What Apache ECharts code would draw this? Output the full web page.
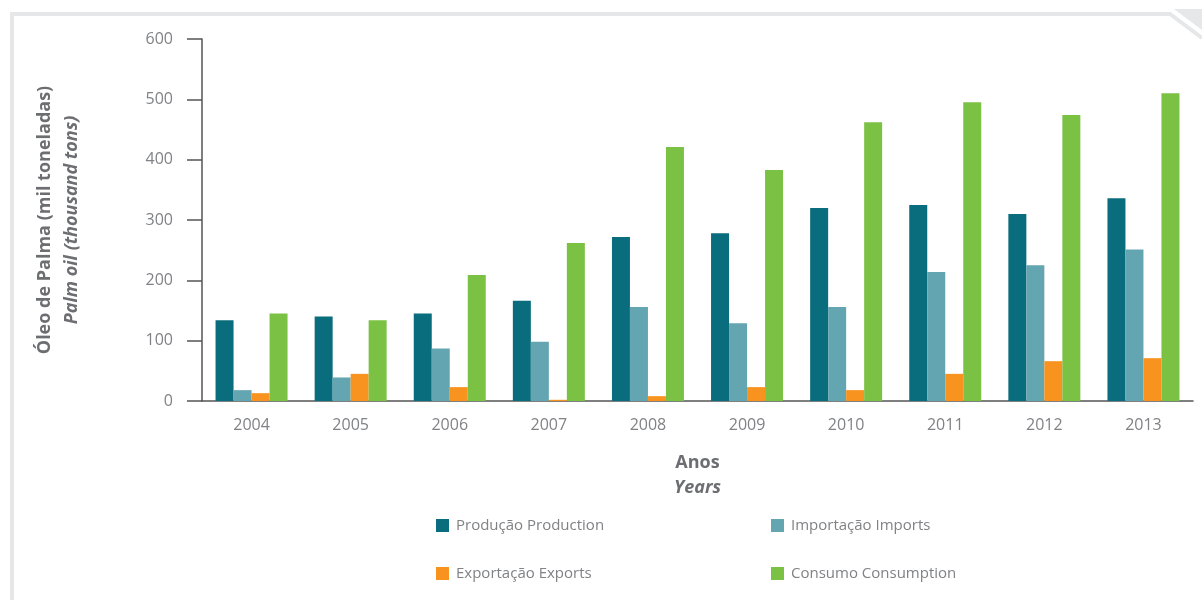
<!DOCTYPE html>
<html>
<head>
<meta charset="utf-8">
<script src="https://cdn.jsdelivr.net/npm/echarts@6/dist/echarts.min.js"></script>
<style>
  html, body { margin: 0; padding: 0; background: #fff; }
  #main { width: 1202px; height: 600px; }
</style>
</head>
<body>
<div id="main"></div>
<script>
// anos
const years = ['2004', '2005', '2006', '2007', '2008', '2009', '2010', '2011', '2012', '2013'];

// mil toneladas
const producao = [134, 140, 145, 166, 272, 278, 320, 325, 310, 336];
const importacao = [18, 39, 87, 98, 156, 129, 156, 214, 225, 251];
const exportacao = [13, 45, 23, 2, 8, 23, 18, 45, 66, 71];
const consumo = [145, 134, 209, 262, 421, 383, 462, 495, 474, 510];

const seriesNames = ['Produção Production', 'Importação Imports', 'Exportação Exports', 'Consumo Consumption'];
const colors = ['#0a6d7d', '#63a5b1', '#f7931e', '#7bc143'];

const chart = echarts.init(document.getElementById('main'));

const textGray = '#808285';
const titleGray = '#6d6e71';
const font = '"Open Sans", "Noto Sans", sans-serif';

// legenda 2x2
const legendPos = [
  { left: 431, top: 513 },
  { left: 766, top: 513 },
  { left: 431, top: 561 },
  { left: 766, top: 561 }
];

const option = {
  animation: false,
  color: colors,
  textStyle: { fontFamily: font },
  grid: { left: 202, right: 9, top: 39, bottom: 199 },
  legend: seriesNames.map((name, i) => ({
    data: [name],
    left: legendPos[i].left,
    top: legendPos[i].top,
    icon: 'rect',
    itemWidth: 13,
    itemHeight: 13,
    itemGap: 10,
    textStyle: { color: textGray, fontSize: 15, fontFamily: font, padding: [0, 0, 0, 2] }
  })),
  xAxis: {
    type: 'category',
    data: years,
    name: '{a|Anos}\n{b|Years}',
    nameLocation: 'middle',
    nameGap: 49,
    nameTextStyle: {
      rich: {
        a: { fontSize: 18, fontWeight: 'bold', color: titleGray, fontFamily: font, lineHeight: 25 },
        b: { fontSize: 18, fontWeight: 'bold', fontStyle: 'italic', color: titleGray, fontFamily: font, lineHeight: 25 }
      }
    },
    axisLine: { lineStyle: { color: '#555', width: 1.5 } },
    axisTick: { length: 14, lineStyle: { color: '#555', width: 1.5 } },
    axisLabel: { color: textGray, fontSize: 16, margin: 16 }
  },
  yAxis: {
    type: 'value',
    min: 0,
    max: 600,
    interval: 100,
    name: '{a|Óleo de Palma (mil toneladas)}\n{b|Palm oil (thousand tons)}',
    nameLocation: 'middle',
    nameRotate: 90,
    nameGap: 117,
    nameTextStyle: {
      rich: {
        a: { fontSize: 18, fontWeight: 'bold', color: titleGray, fontFamily: font, lineHeight: 27 },
        b: { fontSize: 18, fontWeight: 'bold', fontStyle: 'italic', color: titleGray, fontFamily: font, lineHeight: 27 }
      }
    },
    splitLine: { show: false },
    axisLine: { show: true, lineStyle: { color: '#555', width: 1.5 } },
    axisTick: { show: true, length: 15, lineStyle: { color: '#555', width: 1.5 } },
    axisLabel: { color: textGray, fontSize: 16, margin: 29 }
  },
  series: [producao, importacao, exportacao, consumo].map((data, i) => ({
    name: seriesNames[i],
    type: 'bar',
    data: data,
    barWidth: 18,
    barGap: '0%',
    itemStyle: { color: colors[i] }
  })),
  graphic: [
    {
      type: 'polyline',
      shape: { points: [[12, 600], [12, 14], [1170, 14], [1202, 38]] },
      style: { stroke: '#e6e7e8', lineWidth: 4, fill: null },
      silent: true
    },
    {
      type: 'polygon',
      shape: { points: [[1174, 9], [1202, 9], [1202, 30]] },
      style: { fill: '#e6e7e8' },
      silent: true
    }
  ]
};

chart.setOption(option);
</script>
</body>
</html>
